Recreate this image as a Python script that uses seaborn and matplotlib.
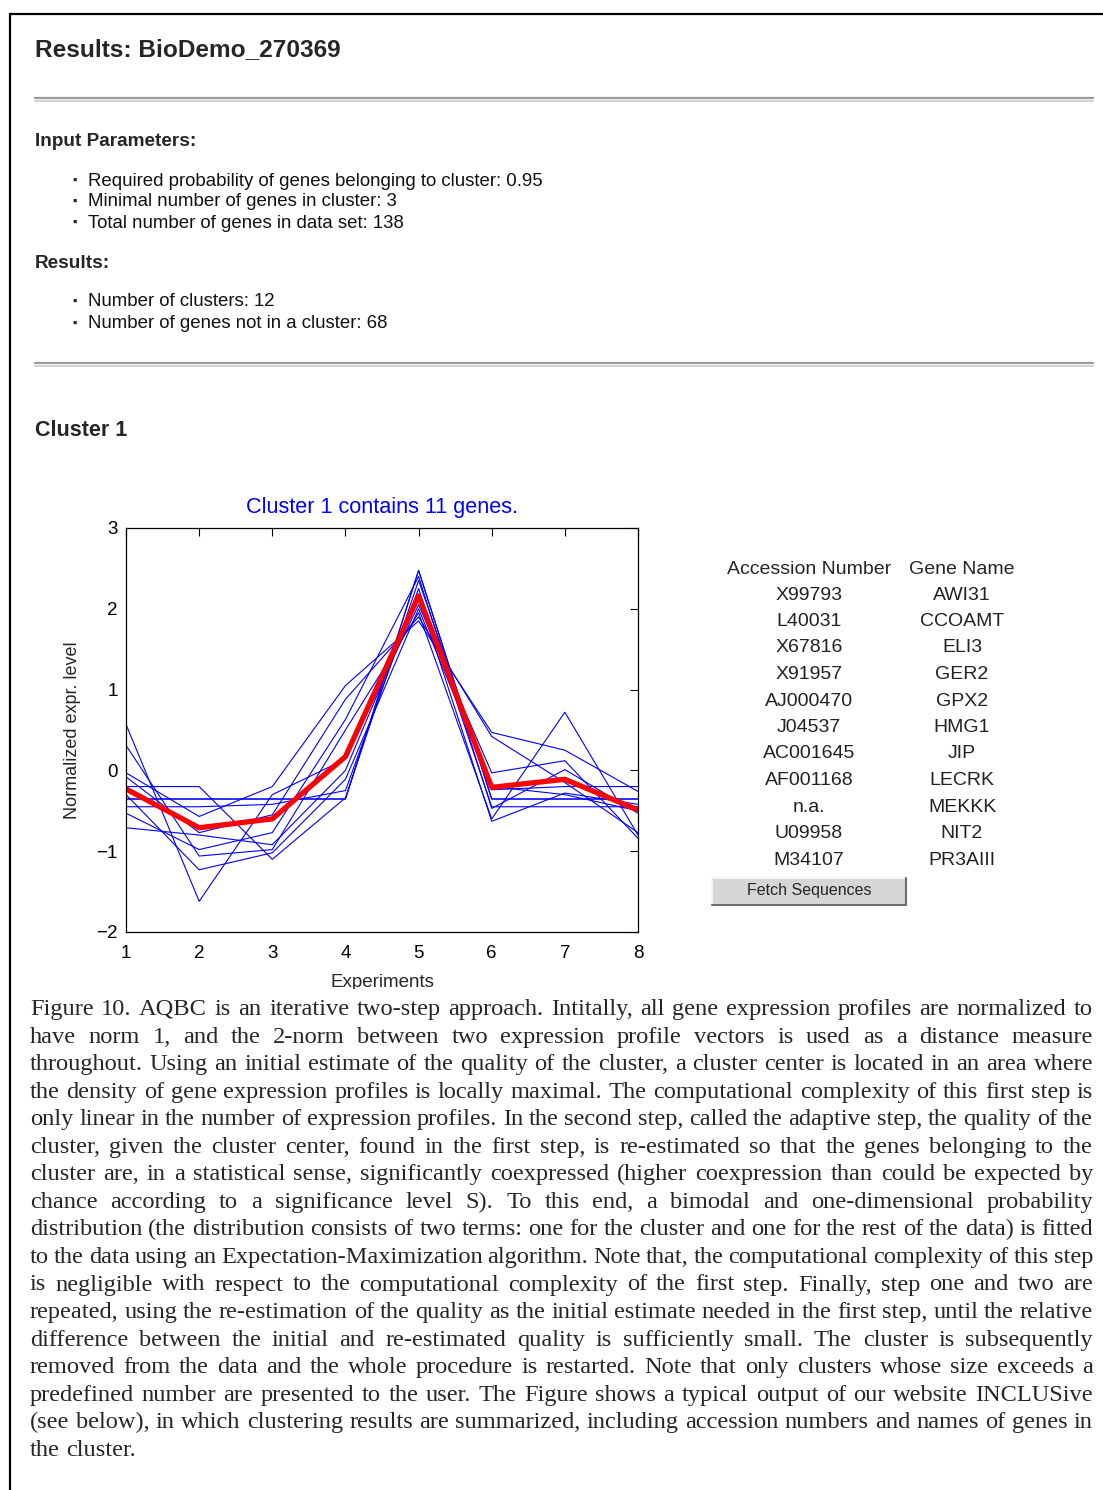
import numpy as np
import pandas as pd
import seaborn as sns
import matplotlib
matplotlib.use("Agg")
import matplotlib.pyplot as plt
from matplotlib.patches import Rectangle
from matplotlib.lines import Line2D
from matplotlib.font_manager import FontProperties

# ---------------------------------------------------------------- data
experiments = [1, 2, 3, 4, 5, 6, 7, 8]

gene_names = ["AWI31", "CCOAMT", "ELI3", "GER2", "GPX2", "HMG1",
              "JIP", "LECRK", "MEKKK", "NIT2", "PR3AIII"]
accessions = ["X99793", "L40031", "X67816", "X91957", "AJ000470", "J04537",
              "AC001645", "AF001168", "n.a.", "U09958", "M34107"]

# normalized expression profiles of the cluster members
profile_awi31 = [-0.354, -0.354, -0.354, -0.354, 2.475, -0.354, -0.354, -0.354]
profile_ccoamt = [-0.354, -0.354, -0.354, -0.354, 2.475, -0.354, -0.354, -0.354]
profile_eli3 = [-0.20, -0.20, -1.10, -0.34, 2.35, -0.24, -0.20, -0.20]
profile_ger2 = [-0.45, -0.45, -0.42, -0.25, 2.25, -0.45, -0.45, -0.45]
profile_gpx2 = [0.57, -1.62, -0.30, 0.14, 2.05, -0.03, 0.12, -0.84]
profile_hmg1 = [0.31, -1.06, -0.98, 0.50, 1.95, -0.60, 0.72, -0.80]
profile_jip = [-0.03, -0.57, -0.20, 1.05, 1.85, 0.47, 0.25, -0.26]
profile_lecrk = [-0.08, -0.77, -0.55, 0.88, 1.90, 0.42, -0.15, -0.77]
profile_mekkk = [-0.53, -0.98, -0.77, 0.63, 2.40, -0.47, 0.01, -0.53]
profile_nit2 = [-0.71, -0.80, -0.92, 0.00, 2.15, -0.63, -0.28, -0.42]
profile_pr3aiii = [-0.30, -1.23, -1.02, -0.11, 2.00, -0.20, -0.30, -0.50]

# cluster center
center_profile = [-0.23, -0.71, -0.60, 0.17, 2.16, -0.21, -0.11, -0.49]

profiles = [profile_awi31, profile_ccoamt, profile_eli3, profile_ger2,
            profile_gpx2, profile_hmg1, profile_jip, profile_lecrk,
            profile_mekkk, profile_nit2, profile_pr3aiii]

y_ticks = [-2, -1, 0, 1, 2, 3]

input_params = ["Required probability of genes belonging to cluster: 0.95",
                "Minimal number of genes in cluster: 3",
                "Total number of genes in data set: 138"]
result_items = ["Number of clusters: 12",
                "Number of genes not in a cluster: 68"]

caption_lines = [
    "Figure 10. AQBC is an iterative two-step approach. Intitally, all gene expression profiles are normalized to",
    "have norm 1, and the 2-norm between two expression profile vectors is used as a distance measure",
    "throughout. Using an initial estimate of the quality of the cluster, a cluster center is located in an area where",
    "the density of gene expression profiles is locally maximal. The computational complexity of this first step is",
    "only linear in the number of expression profiles. In the second step, called the adaptive step, the quality of the",
    "cluster, given the cluster center, found in the first step, is re-estimated so that the genes belonging to the",
    "cluster are, in a statistical sense, significantly coexpressed (higher coexpression than could be expected by",
    "chance according to a significance level S). To this end, a bimodal and one-dimensional probability",
    "distribution (the distribution consists of two terms: one for the cluster and one for the rest of the data) is fitted",
    "to the data using an Expectation-Maximization algorithm. Note that, the computational complexity of this step",
    "is negligible with respect to the computational complexity of the first step. Finally, step one and two are",
    "repeated, using the re-estimation of the quality as the initial estimate needed in the first step, until the relative",
    "difference between the initial and re-estimated quality is sufficiently small. The cluster is subsequently",
    "removed from the data and the whole procedure is restarted. Note that only clusters whose size exceeds a",
    "predefined number are presented to the user. The Figure shows a typical output of our website INCLUSive",
    "(see below), in which clustering results are summarized, including accession numbers and names of genes in",
    "the cluster.",
]

# ---------------------------------------------------------------- figure
W, H = 1103, 1490
sns.set_style("white")
plt.rcParams["font.family"] = ["Liberation Sans", "DejaVu Sans"]

fig = plt.figure(figsize=(W / 100, H / 100), dpi=100)
fig.patch.set_facecolor("white")


def fx(x):
    return x / W


def fy(y):
    return 1 - y / H


SANS = ["Liberation Sans", "DejaVu Sans"]

# page header
fig.text(fx(35), fy(50), "Results: BioDemo_270369", fontsize=17.6,
         fontweight="bold", family=SANS, va="center", ha="left")


def rule(y):
    fig.add_artist(Line2D([fx(35), fx(1093)], [fy(y - 1), fy(y - 1)],
                          color="#9a9a9a", lw=1.6, transform=fig.transFigure))
    fig.add_artist(Line2D([fx(35), fx(1093)], [fy(y + 2), fy(y + 2)],
                          color="#d2d2d2", lw=1.4, transform=fig.transFigure))


rule(99)
rule(364)

fig.text(fx(35), fy(141), "Input Parameters:", fontsize=13.7,
         fontweight="bold", family=SANS, va="center")
for i, s in enumerate(input_params):
    y = 181 + 21 * i
    fig.text(fx(72), fy(y), "\u25aa", fontsize=9, family=SANS, va="center")
    fig.text(fx(88), fy(y), s, fontsize=13.4, family=SANS, va="center",
             color="#111111")

fig.text(fx(35), fy(263), "Results:", fontsize=13.7, fontweight="bold",
         family=SANS, va="center")
for i, s in enumerate(result_items):
    y = 302 + 22 * i
    fig.text(fx(72), fy(y), "\u25aa", fontsize=9, family=SANS, va="center")
    fig.text(fx(88), fy(y), s, fontsize=13.4, family=SANS, va="center",
             color="#111111")

fig.text(fx(35), fy(431), "Cluster 1", fontsize=15.5, fontweight="bold",
         family=SANS, va="center")

# ---------------------------------------------------------------- chart
ax = fig.add_axes([fx(126), fy(932), (638 - 126) / W, (932 - 528) / H])

long_df = pd.DataFrame({
    "gene": np.repeat(gene_names, len(experiments)),
    "experiment": np.tile(experiments, len(gene_names)),
    "level": np.concatenate(profiles),
})
sns.lineplot(data=long_df, x="experiment", y="level", units="gene",
             estimator=None, color="#0000ff", lw=0.8, ax=ax, legend=False)

center_df = pd.DataFrame({"experiment": experiments, "level": center_profile})
sns.lineplot(data=center_df, x="experiment", y="level", color="#ff0000",
             lw=3.8, ax=ax, legend=False)

ax.set_xlim(1, 8)
ax.set_ylim(-2, 3)
ax.set_xticks(experiments)
ax.set_yticks(y_ticks)
ax.set_yticklabels(["\u22122", "\u22121", "0", "1", "2", "3"])
ax.tick_params(direction="in", length=6, width=0.8, top=True, right=True,
               labelsize=13.5, colors="black")
ax.tick_params(axis="x", pad=9)
ax.tick_params(axis="y", pad=6)
for sp in ax.spines.values():
    sp.set_visible(True)
    sp.set_color("black")
    sp.set_linewidth(0.9)
ax.set_title("Cluster 1 contains 11 genes.", color="#0000ff", fontsize=15.6,
             pad=11)
ax.set_xlabel("Experiments", fontsize=13.5, va="center")
ax.xaxis.set_label_coords(0.5, -0.125)
ax.set_ylabel("Normalized expr. level", fontsize=13, va="center")
ax.yaxis.set_label_coords(-0.105, 0.5)

# ---------------------------------------------------------------- gene table
fig.text(fx(809), fy(569), "Accession Number", fontsize=14, family=SANS,
         ha="center", va="center")
fig.text(fx(962), fy(569), "Gene Name", fontsize=14, family=SANS,
         ha="center", va="center")
for i, (acc, name) in enumerate(zip(accessions, gene_names)):
    y = 595 + 26.5 * i
    fig.text(fx(809), fy(y), acc, fontsize=14, family=SANS, ha="center",
             va="center", color="#222222")
    fig.text(fx(962), fy(y), name, fontsize=14, family=SANS, ha="center",
             va="center", color="#222222")

# button
fig.add_artist(Rectangle((fx(712), fy(905)), (906 - 712) / W, 27 / H,
                         transform=fig.transFigure, facecolor="#d6d6d6",
                         edgecolor="none"))
fig.add_artist(Line2D([fx(712), fx(712), fx(906)], [fy(905), fy(878), fy(878)],
                      color="#f4f4f4", lw=1.5, transform=fig.transFigure))
fig.add_artist(Line2D([fx(712), fx(906), fx(906)], [fy(905), fy(905), fy(878)],
                      color="#6e6e6e", lw=1.5, transform=fig.transFigure))
fig.text(fx(809), fy(891), "Fetch Sequences", fontsize=11.5, family=SANS,
         ha="center", va="center")

# white band that crops the page screenshot above the caption
fig.add_artist(Rectangle((fx(12), 0), 1 - fx(12), fy(989),
                         transform=fig.transFigure, facecolor="white",
                         edgecolor="none", zorder=2))

# page border
fig.add_artist(Line2D([fx(10), 1], [fy(14), fy(14)], color="black", lw=1.6,
                      transform=fig.transFigure, zorder=3))
fig.add_artist(Line2D([fx(10), fx(10)], [fy(14), 0], color="black", lw=1.6,
                      transform=fig.transFigure, zorder=3))

# ---------------------------------------------------------------- caption
renderer = fig.canvas.get_renderer()
cap_left, cap_right = 30, 1093
target = cap_right - cap_left
SERIF = ["Liberation Serif", "DejaVu Serif"]


def text_width(s, prop):
    w, _, _ = renderer.get_text_width_height_descent(s, prop, ismath=False)
    return w


def caption_font(size):
    prop = FontProperties(family=SERIF, size=size)
    sp = text_width("a a", prop) - text_width("aa", prop)
    return prop, sp


cap_size = 18.5
fp, space = caption_font(cap_size)
natural = []
for line in caption_lines[:-1]:
    words = line.split(" ")
    natural.append(sum(text_width(w, fp) for w in words)
                   + 0.8 * space * (len(words) - 1))
widest = max(natural)
if widest > target:
    cap_size *= target / widest
    fp, space = caption_font(cap_size)

for i, line in enumerate(caption_lines):
    y = 1015 + 27.55 * i
    words = line.split(" ")
    widths = [text_width(w, fp) for w in words]
    if i < len(caption_lines) - 1 and len(words) > 1:
        gap = (target - sum(widths)) / (len(words) - 1)
    else:
        gap = space
    x = cap_left
    for w, wd in zip(words, widths):
        fig.text(fx(x), fy(y), w, fontproperties=fp, va="baseline",
                 ha="left", zorder=4)
        x += wd + gap

fig.savefig("out.png", dpi=100, facecolor="white")
